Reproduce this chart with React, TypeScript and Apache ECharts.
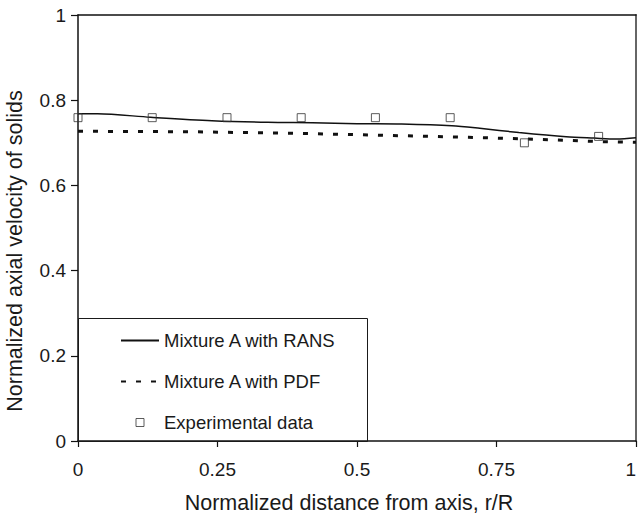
import React, { useEffect, useRef } from "react";
import * as echarts from "echarts";

const FONT = "'Liberation Sans', Arial, Helvetica, sans-serif";

const seriesNames = ["Mixture A with RANS", "Mixture A with PDF", "Experimental data"];

// RANS curve (r/R, normalized axial velocity)
const ransX = [0, 0.035, 0.13, 0.24, 0.34, 0.42, 0.5, 0.58, 0.67, 0.72, 0.79, 0.875, 0.925, 0.965, 1.0];
const ransY = [0.768, 0.768, 0.76, 0.752, 0.748, 0.747, 0.745, 0.744, 0.74, 0.734, 0.724, 0.714, 0.711, 0.709, 0.712];

// PDF curve
const pdfX = [0, 0.2, 0.3, 0.4, 0.5, 0.6, 0.7, 0.8, 0.87, 0.93, 1.0];
const pdfY = [0.727, 0.726, 0.724, 0.722, 0.719, 0.716, 0.713, 0.709, 0.706, 0.703, 0.701];

// Experimental data
const expX = [0, 0.133, 0.267, 0.4, 0.533, 0.667, 0.8, 0.933];
const expY = [0.759, 0.759, 0.759, 0.759, 0.759, 0.759, 0.7, 0.715];

const xTickLabels = ["0", "0.25", "0.5", "0.75", "1"];
const yTickLabels = ["0", "0.2", "0.4", "0.6", "0.8", "1"];

const xName = "Normalized distance from axis, r/R";
const yName = "Normalized axial velocity of solids";

const zip = (xs: number[], ys: number[]) => xs.map((x, i) => [x, ys[i]]);

export default function App() {
  const ref = useRef<HTMLDivElement>(null);

  useEffect(() => {
    document.body.style.margin = "0";
    if (!ref.current) return;
    const chart = echarts.init(ref.current, undefined, { renderer: "svg" });
    const textColor = "#1a1a1a";
    chart.setOption({
      animation: false,
      backgroundColor: "#ffffff",
      grid: { left: 78, top: 15, right: 2, bottom: 74, containLabel: false, outerBoundsMode: "none" },
      xAxis: [
        {
          type: "value",
          min: 0,
          max: 1,
          interval: 0.25,
          name: xName,
          nameLocation: "middle",
          nameGap: 51,
          nameTextStyle: { fontFamily: FONT, fontSize: 21.5, color: textColor, padding: [0, 16, 0, 0] },
          axisLine: { show: true, onZero: false, lineStyle: { color: "#111", width: 1.5 } },
          axisTick: { show: true, inside: false, length: 6, lineStyle: { color: "#111", width: 1.2 } },
          axisLabel: {
            margin: 19,
            fontFamily: FONT,
            fontSize: 19,
            color: textColor,
            alignMaxLabel: "right",
            formatter: (v: number) => xTickLabels[Math.round(v / 0.25)],
          },
          splitLine: { show: false },
        },
        {
          type: "value",
          position: "top",
          min: 0,
          max: 1,
          axisLine: { show: true, onZero: false, lineStyle: { color: "#111", width: 1.5 } },
          axisTick: { show: false },
          axisLabel: { show: false },
          splitLine: { show: false },
        },
      ],
      yAxis: [
        {
          type: "value",
          min: 0,
          max: 1,
          interval: 0.2,
          name: yName,
          nameLocation: "middle",
          nameGap: 52,
          nameTextStyle: { fontFamily: FONT, fontSize: 21.5, color: textColor, padding: [0, 46, 0, 0] },
          axisLine: { show: true, onZero: false, lineStyle: { color: "#111", width: 1.5 } },
          axisTick: { show: true, inside: false, length: 7, lineStyle: { color: "#111", width: 1.2 } },
          axisLabel: {
            margin: 12,
            fontFamily: FONT,
            fontSize: 19,
            color: textColor,
            formatter: (v: number) => yTickLabels[Math.round(v / 0.2)],
          },
          splitLine: { show: false },
        },
        {
          type: "value",
          position: "right",
          min: 0,
          max: 1,
          axisLine: { show: true, onZero: false, lineStyle: { color: "#666", width: 2 } },
          axisTick: { show: false },
          axisLabel: { show: false },
          splitLine: { show: false },
        },
      ],
      legend: {
        left: 120,
        top: 331,
        orient: "vertical",
        padding: 0,
        itemWidth: 38,
        itemHeight: 8,
        itemGap: 22,
        textStyle: { fontFamily: FONT, fontSize: 18.5, color: textColor, lineHeight: 18 },
        data: [
          { name: seriesNames[0], itemStyle: { color: "transparent", borderWidth: 0 } },
          { name: seriesNames[1], itemStyle: { color: "transparent", borderWidth: 0 } },
          {
            name: seriesNames[2],
            icon: "path://M0 0H10V10H0Z",
            itemStyle: { color: "transparent", borderColor: "#333", borderWidth: 1 },
          },
        ],
        selectedMode: false,
      },
      graphic: [
        {
          type: "rect",
          shape: { x: 78.5, y: 318.5, width: 289, height: 123 },
          style: { fill: "none", stroke: "#1a1a1a", lineWidth: 1 },
          z: 1,
        },
      ],
      series: [
        {
          name: seriesNames[0],
          type: "line",
          data: zip(ransX, ransY),
          symbol: "none",
          smooth: 0.3,
          lineStyle: { color: "#111", width: 1.5 },
          itemStyle: { color: "#111" },
          z: 3,
        },
        {
          name: seriesNames[1],
          type: "line",
          data: zip(pdfX, pdfY),
          symbol: "none",
          lineStyle: { color: "#111", width: 3, type: [5, 10] },
          itemStyle: { color: "#111" },
          z: 3,
        },
        {
          name: seriesNames[2],
          type: "scatter",
          data: zip(expX, expY),
          symbol: "rect",
          symbolSize: 8,
          itemStyle: { color: "transparent", borderColor: "#333", borderWidth: 1 },
          z: 4,
        },
      ],
    });
    return () => chart.dispose();
  }, []);

  return <div ref={ref} style={{ width: 638, height: 515 }} />;
}
